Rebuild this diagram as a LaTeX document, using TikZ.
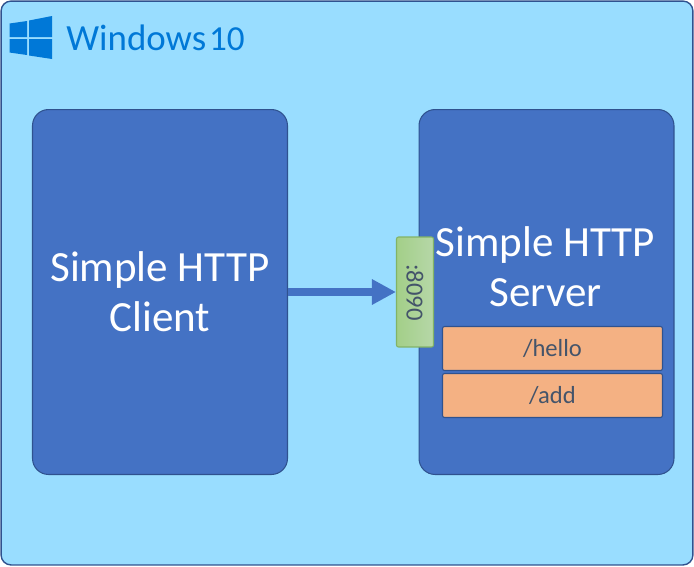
\documentclass[tikz,border=0pt]{standalone}
\usepackage{fontspec}
\setmainfont{Carlito}
\usetikzlibrary{arrows.meta}
\definecolor{hostblue}{HTML}{99DDFF}
\definecolor{boxblue}{HTML}{4472C4}
\definecolor{edgeblue}{HTML}{2F528F}
\definecolor{logoblue}{HTML}{0078D7}
\definecolor{routeorange}{HTML}{F4B183}
\definecolor{labelgray}{HTML}{44546A}
\definecolor{portleft}{HTML}{A3CF88}
\definecolor{portright}{HTML}{B6D7A8}
\definecolor{portedge}{HTML}{82B366}

\begin{document}
\begin{tikzpicture}[
    x=0.02cm, y=-0.02cm,
    panel/.style={draw=edgeblue, fill=boxblue, rounded corners=0.32cm, line width=0.6pt,
        minimum width=5.1cm, minimum height=7.3cm},
    route/.style={draw=edgeblue, fill=routeorange, rounded corners=0.04cm, line width=0.6pt,
        minimum width=4.4cm, minimum height=0.88cm, text=labelgray, font=\fontsize{14}{16}\selectfont},
    title/.style={text=white, align=center, font=\fontsize{24.5}{28.3}\selectfont},
    pane/.style={fill=logoblue}
]
    \useasboundingbox (0,0) rectangle (694,566);

    % Host
    \node[draw=edgeblue, fill=hostblue, rounded corners=0.2cm, line width=0.8pt,
        minimum width=13.84cm, minimum height=11.28cm] (host) at (347,283) {};

    % Logo
    \fill[pane] (9.5,23.5) -- (27,21) -- (27,37) -- (9.5,37) -- cycle;
    \fill[pane] (29,20.5) -- (52,16) -- (52,37) -- (29,37) -- cycle;
    \fill[pane] (9.5,39) -- (27,39) -- (27,55) -- (9.5,52.5) -- cycle;
    \fill[pane] (29,39) -- (52,39) -- (52,59) -- (29,55.5) -- cycle;
    \node[anchor=base west, inner sep=0pt, text=logoblue, font=\fontsize{21}{24}\selectfont] (brand) at (66,50) {Windows\kern 1.6pt{\fontsize{20}{24}\selectfont 10}};

    % Boxes
    \node[panel] (client) at (160,292) {};
    \node[panel] (server) at (546.5,292) {};
    \node[title] (clienttext) at (160,292) {Simple HTTP\\Client};
    \node[title] (servertext) at (545.5,267) {Simple HTTP\\Server};

    % Routes
    \node[route] (hello) at (552.5,348.5) {/hello};
    \node[route] (add) at (552.5,395.5) {/add};

    % Port
    \node[draw=portedge, left color=portleft, right color=portright,
        rounded corners=0.04cm, line width=0.6pt, minimum width=0.74cm, minimum height=2.2cm] (port) at (415,292) {};
    \node[rotate=-90, text=labelgray, font=\fontsize{14}{16}\selectfont] (portlabel) at (415,292.5) {:8090};

    % Request
    \draw[boxblue, line width=0.16cm, -{Triangle[length=0.48cm, width=0.48cm]}] (client.east) -- (port.west);
\end{tikzpicture}
\end{document}
